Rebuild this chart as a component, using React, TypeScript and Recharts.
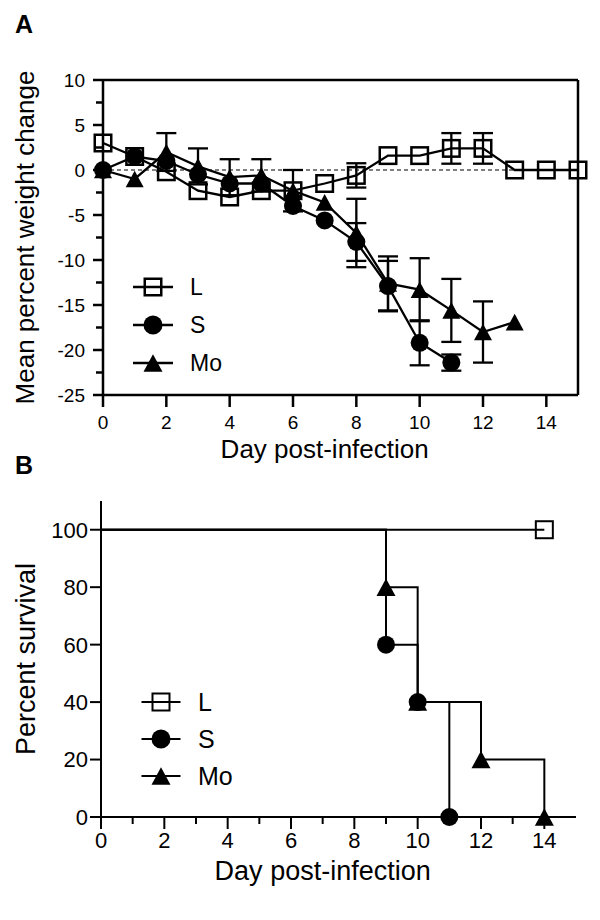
import React from 'react'
import { LineChart, Line, XAxis, YAxis, ErrorBar, ReferenceLine, Legend } from 'recharts'

const FONT = '"Liberation Sans", Arial, Helvetica, sans-serif'

// panel A - mean percent weight change per day
const days = [0, 1, 2, 3, 4, 5, 6, 7, 8, 9, 10, 11, 12, 13, 14, 15]
const weightL = [3.0, 1.5, -0.2, -2.3, -3.0, -2.3, -2.3, -1.5, -0.6, 1.6, 1.6, 2.4, 2.4, 0, 0, 0]
const weightS = [0, 1.5, 1.0, -0.5, -1.5, -1.5, -4.0, -5.6, -8.0, -12.9, -19.2, -21.4]
const weightMo = [0, -1.0, 2.0, 0.4, -0.8, -0.6, -2.3, -3.6, -7.0, -12.6, -13.3, -15.6, -18.0, -16.9]
const errL = [0, 0, 0, 0, 0, 0, 0, 0, 1.35, 0, 0, 1.7, 1.7, 0, 0, 0]
const errS = [0, 0, 0, 0, 0, 0, 0, 0, 2.1, 2.8, 2.5, 0.9]
const errMo = [0, 0, 2.1, 2.0, 2.0, 1.8, 2.3, 0, 3.8, 3.0, 3.5, 3.5, 3.4, 0]
const weightTicks = [-25, -22.5, -20, -17.5, -15, -12.5, -10, -7.5, -5, -2.5, 0, 2.5, 5, 7.5, 10]
const weightDayTicks = [0, 2, 4, 6, 8, 10, 12, 14]

// panel B - survival (Kaplan-Meier steps)
const survDaysL = [0, 14]
const survL = [100, 100]
const survDaysS = [0, 9, 10, 11]
const survS = [100, 60, 40, 0]
const survDaysMo = [0, 9, 10, 12, 14]
const survMo = [100, 80, 40, 20, 0]
const survTicks = [0, 20, 40, 60, 80, 100]
const survDayTicks = [0, 1, 2, 3, 4, 5, 6, 7, 8, 9, 10, 11, 12, 13, 14]

const groups = ['L', 'S', 'Mo']
const shapes: Record<string, string> = { L: 'square', S: 'circle', Mo: 'triangle' }

const weightRows = days.map((d, i) => ({
  day: d, L: weightL[i], S: weightS[i], Mo: weightMo[i],
  errL: errL[i], errS: errS[i], errMo: errMo[i],
}))
const toRows = (ds: number[], vs: number[]) => ds.map((d, i) => ({ day: d, pct: vs[i] }))
const survRows: Record<string, any[]> = {
  L: toRows(survDaysL, survL),
  S: toRows(survDaysS, survS),
  Mo: toRows(survDaysMo, survMo),
}

function Glyph({ shape, x, y, size, sw }: any) {
  const h = size / 2
  if (shape === 'square')
    return <rect x={x - h + sw / 2} y={y - h + sw / 2} width={size - sw} height={size - sw} fill="none" stroke="#000" strokeWidth={sw} />
  if (shape === 'circle') return <circle cx={x} cy={y} r={h} fill="#000" />
  const th = size * 0.92
  return <polygon points={`${x},${y - th / 2} ${x + h},${y + th / 2} ${x - h},${y + th / 2}`} fill="#000" />
}

const dotFor = (shape: string, size: number, sw: number, skipFirst = false) => (p: any) => {
  const { cx, cy, index } = p
  if (cx == null || cy == null || isNaN(cy) || (skipFirst && index === 0)) return <g key={`d${index}`} />
  return <Glyph key={`d${index}`} shape={shape} x={cx} y={cy} size={size} sw={sw} />
}

// ticks drawn by hand so minor ticks can be shorter and unlabeled
const leftTick = (size: number, margin: number, minor: number, font: number, sw: number, isMajor: (v: number) => boolean) => (p: any) => {
  const v = p.payload.value
  const ax = p.x + margin + size
  const major = isMajor(v)
  return (
    <g>
      <line x1={ax - (major ? size : minor)} x2={ax} y1={p.y} y2={p.y} stroke="#000" strokeWidth={sw} />
      {major && (
        <text x={p.x} y={p.y} dy="0.36em" textAnchor="end" fontSize={font} fontFamily={FONT} fill="#000">{v}</text>
      )}
    </g>
  )
}

const bottomTick = (size: number, margin: number, minor: number, font: number, sw: number, isMajor: (v: number) => boolean) => (p: any) => {
  const v = p.payload.value
  const ay = p.y - margin - size
  const major = isMajor(v)
  return (
    <g>
      <line x1={p.x} x2={p.x} y1={ay} y2={ay + (major ? size : minor)} stroke="#000" strokeWidth={sw} />
      {major && (
        <text x={p.x} y={p.y} dy="0.72em" textAnchor="middle" fontSize={font} fontFamily={FONT} fill="#000">{v}</text>
      )}
    </g>
  )
}

const xTitle = (text: string, font: number, below: number) => (p: any) => {
  const vb = p.viewBox || { x: 0, y: 0, width: 0 }
  return (
    <text x={vb.x + (vb.width * 7) / 15} y={vb.y + below} textAnchor="middle" fontSize={font} fontFamily={FONT} fill="#000">
      {text}
    </text>
  )
}

const yTitle = (text: string, font: number, baseX: number) => (p: any) => {
  const vb = p.viewBox || { y: 0, height: 0 }
  const cy = vb.y + vb.height / 2
  return (
    <text transform={`translate(${baseX},${cy}) rotate(-90)`} textAnchor="middle" fontSize={font} fontFamily={FONT} fill="#000">
      {text}
    </text>
  )
}

const legendFor = (size: number, sw: number, lineW: number, gap: number, font: number, x0: number, y0: number) => () => (
  <svg width={130} height={120} style={{ display: 'block' }}>
    {groups.map((g, i) => {
      const y = y0 + i * gap
      return (
        <g key={g}>
          <line x1={x0 - lineW / 2} x2={x0 + lineW / 2} y1={y} y2={y} stroke="#000" strokeWidth={sw} />
          <Glyph shape={shapes[g]} x={x0} y={y} size={size} sw={sw} />
          <text x={x0 + 37} y={y} dy="0.36em" fontSize={font} fontFamily={FONT} fill="#000">{g}</text>
        </g>
      )
    })}
  </svg>
)

const panelLabel: React.CSSProperties = {
  position: 'absolute', left: 15, fontFamily: FONT, fontWeight: 'bold', fontSize: 25, lineHeight: '25px',
}

export default function App() {
  return (
    <div style={{ position: 'absolute', left: 0, top: 0, width: 600, height: 920, background: '#fff' }}>
      <div style={{ ...panelLabel, top: 12 }}>A</div>
      <div style={{ ...panelLabel, top: 453 }}>B</div>

      <div style={{ position: 'absolute', left: 0, top: 0 }}>
        <LineChart width={600} height={480} data={weightRows} margin={{ top: 80, right: 22, bottom: 0, left: 0 }}>
          <XAxis
            dataKey="day" type="number" domain={[0, 15]} ticks={weightDayTicks} interval={0} height={85}
            axisLine={{ stroke: '#000', strokeWidth: 2.5 }} tickLine={false} tickSize={12} tickMargin={8}
            tick={bottomTick(12, 8, 12, 19, 2.5, () => true)}
            label={xTitle('Day post-infection', 26, 63)}
          />
          <YAxis
            type="number" domain={[-25, 10]} ticks={weightTicks} interval={0} width={103}
            axisLine={{ stroke: '#000', strokeWidth: 2.5 }} tickLine={false} tickSize={10} tickMargin={8}
            tick={leftTick(10, 8, 7, 19, 2.5, v => v % 5 === 0)}
            label={yTitle('Mean percent weight change', 26, 34)}
          />
          <ReferenceLine y={0} stroke="#000" strokeWidth={1.2} strokeDasharray="4 3" />
          <ReferenceLine y={10} stroke="#000" strokeWidth={2.5} />
          <ReferenceLine x={15} stroke="#000" strokeWidth={2.5} />
          <Line dataKey="L" stroke="#000" strokeWidth={2.3} dot={dotFor('square', 19, 2.5)} activeDot={false} isAnimationActive={false}>
            <ErrorBar dataKey="errL" width={10} stroke="#000" strokeWidth={2.3} direction="y" isAnimationActive={false} />
          </Line>
          <Line dataKey="Mo" stroke="#000" strokeWidth={2.3} dot={dotFor('triangle', 18, 2.5)} activeDot={false} isAnimationActive={false}>
            <ErrorBar dataKey="errMo" width={10} stroke="#000" strokeWidth={2.3} direction="y" isAnimationActive={false} />
          </Line>
          <Line dataKey="S" stroke="#000" strokeWidth={2.3} dot={dotFor('circle', 18, 2.5)} activeDot={false} isAnimationActive={false}>
            <ErrorBar dataKey="errS" width={10} stroke="#000" strokeWidth={2.3} direction="y" isAnimationActive={false} />
          </Line>
          <Legend
            layout="vertical" align="center" verticalAlign="middle"
            content={legendFor(19, 2.5, 40, 38, 23, 25, 19)}
            wrapperStyle={{ left: 128, top: 268, width: 130, height: 120 }}
          />
        </LineChart>
      </div>

      <div style={{ position: 'absolute', left: 0, top: 460 }}>
        <LineChart width={600} height={460} margin={{ top: 41, right: 24, bottom: 0, left: 0 }}>
          <XAxis
            dataKey="day" type="number" domain={[0, 15]} ticks={survDayTicks} interval={0} height={103}
            allowDuplicatedCategory={false}
            axisLine={{ stroke: '#000', strokeWidth: 2 }} tickLine={false} tickSize={12} tickMargin={3}
            tick={bottomTick(12, 3, 7, 22, 2, v => v % 2 === 0)}
            label={xTitle('Day post-infection', 27, 63)}
          />
          <YAxis
            type="number" dataKey="pct" domain={[0, 110]} ticks={survTicks} interval={0} width={101}
            axisLine={{ stroke: '#000', strokeWidth: 2 }} tickLine={false} tickSize={11} tickMargin={2}
            tick={leftTick(11, 2, 11, 22, 2, () => true)}
            label={yTitle('Percent survival', 27, 35)}
          />
          <Line data={survRows.L} dataKey="pct" type="stepAfter" stroke="#000" strokeWidth={2} dot={dotFor('square', 19, 2, true)} activeDot={false} isAnimationActive={false} />
          <Line data={survRows.Mo} dataKey="pct" type="stepAfter" stroke="#000" strokeWidth={2} dot={dotFor('triangle', 19, 2, true)} activeDot={false} isAnimationActive={false} />
          <Line data={survRows.S} dataKey="pct" type="stepAfter" stroke="#000" strokeWidth={2} dot={dotFor('circle', 18, 2, true)} activeDot={false} isAnimationActive={false} />
          <Legend
            layout="vertical" align="center" verticalAlign="middle"
            content={legendFor(19, 2, 39, 37, 25, 24, 20)}
            wrapperStyle={{ left: 137, top: 222, width: 130, height: 120 }}
          />
        </LineChart>
      </div>
    </div>
  )
}
